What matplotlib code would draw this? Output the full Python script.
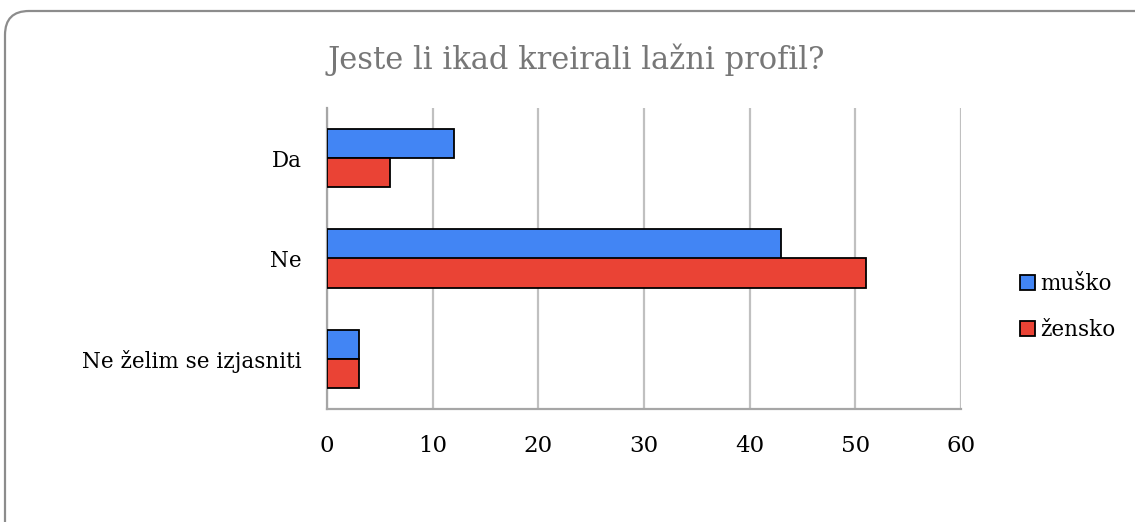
import numpy as np
import matplotlib.pyplot as plt
from matplotlib.patches import FancyBboxPatch

plt.rcParams['font.family'] = ['DejaVu Serif']

# podaci
kategorije = ['Da', 'Ne', 'Ne želim se izjasniti']
musko = [12, 43, 3]
zensko = [6, 51, 3]
serije = ['muško', 'žensko']
boje = ['#4285F4', '#EA4335']

W, H = 1135, 522
fig = plt.figure(figsize=(W / 100, H / 100), dpi=100)

# zaobljeni okvir oko grafa (u pikselima)
okvir = FancyBboxPatch((5, -60), 1300, H - 11 + 60,
                       boxstyle='round,pad=0,rounding_size=24',
                       transform=None, fill=False,
                       edgecolor='#8c8c8c', linewidth=1.6)
fig.patches.append(okvir)

ax = fig.add_axes([327 / W, 1 - 409 / H, (961 - 327) / W, (409 - 108) / H])

y = np.arange(len(kategorije))
h = 0.29
b1 = ax.barh(y - h / 2, musko, height=h, color=boje[0], edgecolor='black',
             linewidth=1.3, label=serije[0], zorder=3)
b2 = ax.barh(y + h / 2, zensko, height=h, color=boje[1], edgecolor='black',
             linewidth=1.3, label=serije[1], zorder=3)

ax.set_xlim(0, 60)
ax.set_ylim(2.5, -0.5)
ax.set_xticks(range(0, 61, 10))
ax.set_yticks(y)
ax.set_yticklabels(kategorije)
ax.tick_params(axis='both', length=0, labelsize=15.5)
ax.tick_params(axis='y', pad=18)
ax.tick_params(axis='x', pad=19, labelsize=16.5)
ax.grid(True, axis='x', color='#c0c0c0', linewidth=1.6, zorder=0)
for s in ['top', 'right']:
    ax.spines[s].set_visible(False)
for s in ['left', 'bottom']:
    ax.spines[s].set_color('#a6a6a6')
    ax.spines[s].set_linewidth(1.6)

fig.text(576 / W, 1 - 60 / H, 'Jeste li ikad kreirali lažni profil?',
         ha='center', va='center', fontsize=22, color='#777777')

ax.legend(handles=[b1, b2], loc='center left', frameon=False, fontsize=15.5,
          bbox_to_anchor=(1001 / W, 1 - 307 / H), bbox_transform=fig.transFigure,
          handlelength=0.7, handleheight=0.7, handletextpad=0.2, labelspacing=1.1)

fig.savefig('out.png', dpi=100)
